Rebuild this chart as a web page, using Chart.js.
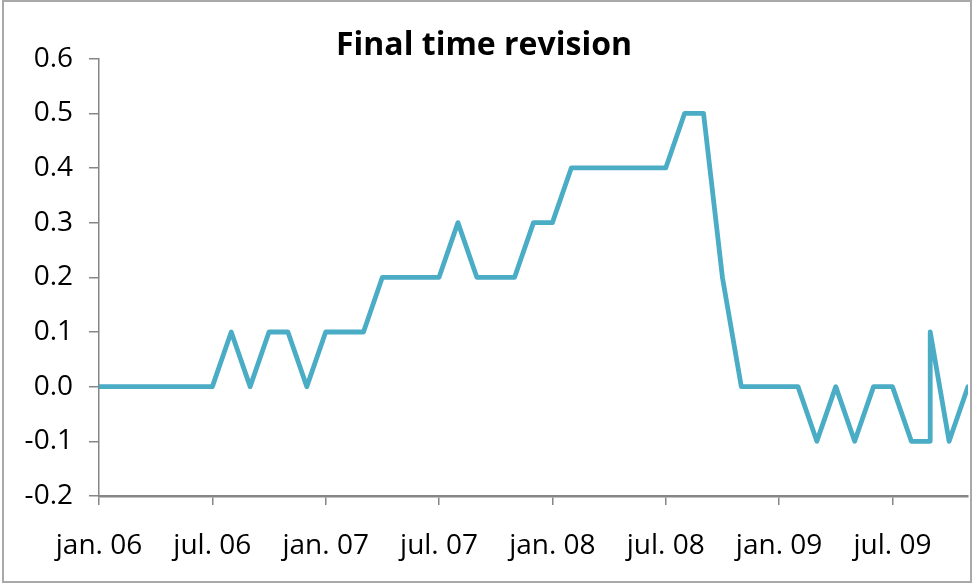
<!DOCTYPE html>
<html>
<head>
<meta charset="utf-8">
<script src="https://cdn.jsdelivr.net/npm/chart.js@4"></script>
<style>
  html, body { margin: 0; padding: 0; background: #fff; }
  #wrap { position: relative; width: 973px; height: 585px; }
  #c { position: absolute; left: 0; top: 0; }
  #frame { position: absolute; left: 2px; top: 0; width: 966px; height: 579px;
           border: 2px solid #a9a9a9; pointer-events: none; }
</style>
</head>
<body>
<div id="wrap">
  <canvas id="c" width="973" height="585"></canvas>
  <div id="frame"></div>
</div>
<script>
// Observation months (YYYY-MM); Sep 2009 appears twice (two revisions at the same date)
const months = [
  '2006-01','2006-02','2006-03','2006-04','2006-05','2006-06','2006-07','2006-08','2006-09','2006-10','2006-11','2006-12',
  '2007-01','2007-02','2007-03','2007-04','2007-05','2007-06','2007-07','2007-08','2007-09','2007-10','2007-11','2007-12',
  '2008-01','2008-02','2008-03','2008-04','2008-05','2008-06','2008-07','2008-08','2008-09','2008-10','2008-11','2008-12',
  '2009-01','2009-02','2009-03','2009-04','2009-05','2009-06','2009-07','2009-08','2009-09','2009-09','2009-10','2009-11'
];
// Final time revision values
const revision = [
  0.0, 0.0, 0.0, 0.0, 0.0, 0.0, 0.0, 0.1, 0.0, 0.1, 0.1, 0.0,
  0.1, 0.1, 0.1, 0.2, 0.2, 0.2, 0.2, 0.3, 0.2, 0.2, 0.2, 0.3,
  0.3, 0.4, 0.4, 0.4, 0.4, 0.4, 0.4, 0.5, 0.5, 0.2, 0.0, 0.0,
  0.0, 0.0, -0.1, 0.0, -0.1, 0.0, 0.0, -0.1, -0.1, 0.1, -0.1, 0.0
];
// X-axis tick labels (every 6 months starting Jan 2006)
const xTickLabels = ['jan. 06','jul. 06','jan. 07','jul. 07','jan. 08','jul. 08','jan. 09','jul. 09'];
const chartTitle = 'Final time revision';

function monthIndex(s) {
  const [y, m] = s.split('-').map(Number);
  return (y - 2006) * 12 + (m - 1);
}
const points = months.map((m, i) => ({ x: monthIndex(m), y: revision[i] }));
const lastIdx = monthIndex(months[months.length - 1]);

const FONT = '"Open Sans", Lato, sans-serif';
const AXIS = '#868686';

new Chart(document.getElementById('c'), {
  type: 'line',
  data: {
    datasets: [{
      label: chartTitle,
      data: points,
      borderColor: '#4BACC6',
      borderWidth: 4.8,
      borderJoinStyle: 'round',
      borderCapStyle: 'round',
      pointRadius: 0,
      tension: 0,
      fill: false
    }]
  },
  options: {
    responsive: false,
    animation: false,
    devicePixelRatio: 1,
    layout: { padding: { left: 0, right: 5, top: 0, bottom: 0 } },
    plugins: {
      legend: { display: false },
      tooltip: { enabled: false },
      title: {
        display: true,
        text: chartTitle,
        color: '#000',
        font: { family: FONT, size: 32, weight: 'bold', lineHeight: 0.8 },
        padding: { top: 33, bottom: 0 }
      }
    },
    scales: {
      x: {
        type: 'linear',
        min: 0,
        max: lastIdx,
        afterFit: s => { s.height = 89; },
        border: { display: true, color: AXIS, width: 2.5 },
        grid: { display: true, drawOnChartArea: false, drawTicks: true, tickLength: 9, color: AXIS, lineWidth: 1.5 },
        ticks: {
          stepSize: 6,
          includeBounds: false,
          autoSkip: false,
          maxRotation: 0,
          padding: 24,
          color: '#000',
          font: { family: FONT, size: 28 },
          callback: v => xTickLabels[v / 6] ?? ''
        }
      },
      y: {
        min: -0.2,
        max: 0.6,
        afterFit: s => { s.width = 99; },
        border: { display: true, color: AXIS, width: 1.5 },
        grid: { display: true, drawOnChartArea: false, drawTicks: true, tickLength: 10, color: AXIS, lineWidth: 1.5 },
        ticks: {
          stepSize: 0.1,
          padding: 16,
          color: '#000',
          font: { family: FONT, size: 28 },
          callback: v => v.toFixed(1)
        }
      }
    }
  }
});
</script>
</body>
</html>
